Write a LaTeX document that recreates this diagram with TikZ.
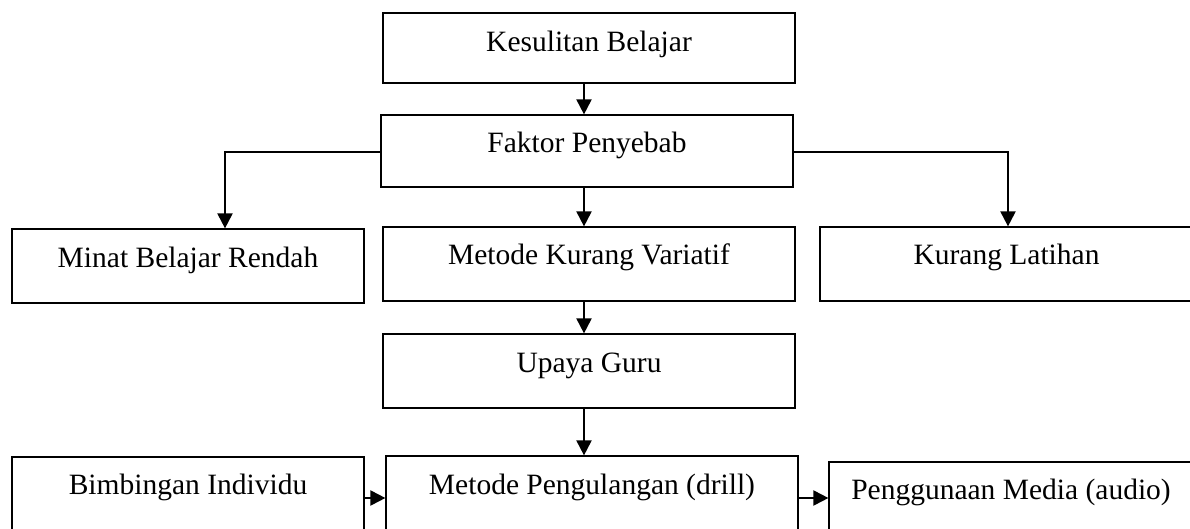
\documentclass[tikz,border=0pt]{standalone}
\usepackage{fontspec}
\setmainfont{Liberation Serif}
\usetikzlibrary{arrows.meta}
\begin{document}
\begin{tikzpicture}[x=1pt,y=-1pt,
  box/.style={draw, line width=1.2pt, inner sep=0pt},
  lbl/.style={anchor=base, inner sep=0pt, font=\fontsize{29.5}{35}\selectfont},
  conn/.style={line width=2pt, -{Triangle[width=15pt,length=15pt]}},
  plain/.style={line width=2pt}]
\useasboundingbox (0,0) rectangle (1190,529);
% boxes
\node[box, minimum width=412pt, minimum height=70pt] (k) at (589,48) {};
\node[box, minimum width=412pt, minimum height=72pt] (f) at (587,151) {};
\node[box, minimum width=352pt, minimum height=74pt] (m) at (188,266) {};
\node[box, minimum width=412pt, minimum height=74pt] (v) at (589,264) {};
\node[box, minimum width=373pt, minimum height=74pt] (l) at (1006.5,264) {};
\node[box, minimum width=412pt, minimum height=74pt] (u) at (589,371) {};
\node[box, minimum width=352pt, minimum height=83pt] (b) at (188,498.5) {};
\node[box, minimum width=412pt, minimum height=84pt] (p) at (592,498) {};
\node[box, minimum width=364pt, minimum height=78pt] (a) at (1011,501) {};
% texts
\node[lbl] (tk) at (589,52) {Kesulitan Belajar};
\node[lbl] (tf) at (587,153) {Faktor Penyebab};
\node[lbl] (tm) at (188,267) {Minat Belajar Rendah};
\node[lbl] (tv) at (589,265) {Metode Kurang Variatif};
\node[lbl] (tl) at (1006.5,265) {Kurang Latihan};
\node[lbl] (tu) at (589,372) {Upaya Guru};
\node[lbl] (tb) at (188,494) {Bimbingan Individu};
\node[lbl] (tp) at (592,494) {Metode Pengulangan (drill)};
\node[lbl] (ta) at (1011,499) {Penggunaan Media (audio)};
% helper coordinates
\coordinate (cx) at (584,0);
\coordinate (lx) at (225,152);
\coordinate (rx) at (1008,152);
\coordinate (hy) at (0,498);
% connectors
\draw[conn] (k.south -| cx) -- (f.north -| cx);
\draw[conn] (f.south -| cx) -- (v.north -| cx);
\draw[conn] (v.south -| cx) -- (u.north -| cx);
\draw[conn] (u.south -| cx) -- (p.north -| cx);
\draw[conn] (f.west |- lx) -| (m.north -| lx);
\draw[conn] (f.east |- rx) -| (l.north -| rx);
\draw[conn] (b.east |- hy) -- (p.west |- hy);
\draw[conn] (p.east |- hy) -- (a.west |- hy);
\end{tikzpicture}
\end{document}
